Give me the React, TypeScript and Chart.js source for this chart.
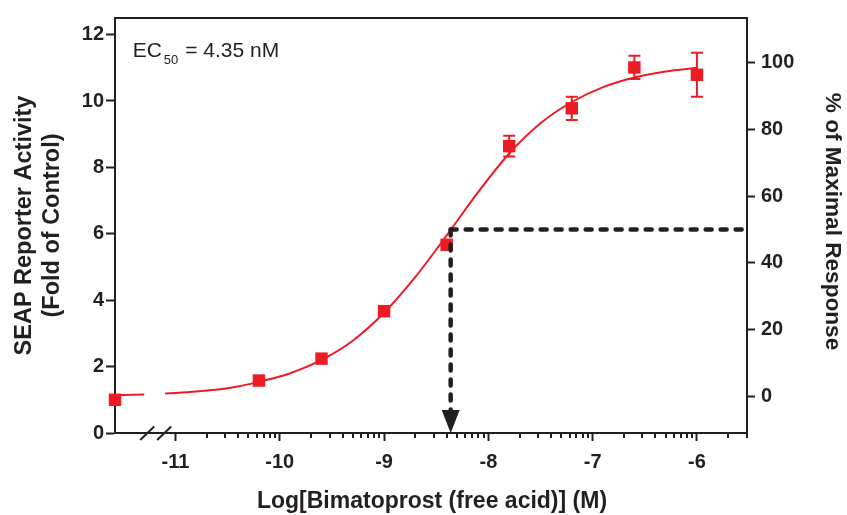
import React, { useEffect, useRef } from "react";
import { Chart, registerables } from "chart.js";

Chart.register(...registerables);

// ---- data ----
const logConc = [-11.58, -10.2, -9.6, -9.0, -8.4, -7.8, -7.2, -6.6, -6.0];
const foldValues = [1.0, 1.58, 2.24, 3.67, 5.67, 8.64, 9.78, 11.01, 10.79];
const foldErrors = [0, 0, 0, 0, 0, 0.31, 0.35, 0.35, 0.66];

// fitted curve (null = axis break gap)
const fitX = [-11.58, -11.3, -11.2, -11.1, -10.8, -10.5, -10.2, -9.9, -9.6, -9.3, -9.0, -8.7, -8.4, -8.1, -7.8, -7.5, -7.2, -6.9, -6.6, -6.3, -6.0];
const fitY = [1.14, 1.16, null, 1.19, 1.25, 1.35, 1.54, 1.8, 2.2, 2.78, 3.62, 4.7, 5.95, 7.25, 8.42, 9.33, 9.97, 10.42, 10.71, 10.89, 11.0];

const xTicks = [-11, -10, -9, -8, -7, -6];
const leftTicks = [0, 2, 4, 6, 8, 10, 12];
const rightTicks = [0, 20, 40, 60, 80, 100];

const X_MIN = -11.58;
const X_MAX = -5.52;
const LEFT_MIN = 0;
const LEFT_MAX = 12.5;
const RIGHT_MIN = -10.99;
const RIGHT_MAX = 113.33;

const EC50_LOG = -8.3615; // log10(4.35 nM)
const HALF_MAX = 50;
const BREAK_AT = -11.19;

const xTitle = "Log[Bimatoprost (free acid)] (M)";
const leftTitle = ["SEAP Reporter Activity", "(Fold of Control)"];
const rightTitle = "% of Maximal Response";

const RED = "#ED1C24";
const INK = "#231F20";
const FAMILY = '"Liberation Sans", Arial, Helvetica, sans-serif';

const overlay = {
  id: "overlay",
  beforeDatasetsDraw(chart: any) {
    const { ctx, scales } = chart;
    const x = scales.x, y = scales.y;
    ctx.save();
    ctx.strokeStyle = RED;
    ctx.lineWidth = 2;
    logConc.forEach((lc, i) => {
      const e = foldErrors[i];
      if (!e) return;
      const px = x.getPixelForValue(lc);
      const t = y.getPixelForValue(foldValues[i] + e);
      const b = y.getPixelForValue(foldValues[i] - e);
      ctx.beginPath();
      ctx.moveTo(px, t); ctx.lineTo(px, b);
      ctx.moveTo(px - 6, t); ctx.lineTo(px + 6, t);
      ctx.moveTo(px - 6, b); ctx.lineTo(px + 6, b);
      ctx.stroke();
    });
    ctx.restore();
  },
  afterDatasetsDraw(chart: any) {
    const { ctx, chartArea: a, scales } = chart;
    const ex = scales.x.getPixelForValue(EC50_LOG);
    const yh = scales.y2.getPixelForValue(HALF_MAX);
    const arrowH = 23, arrowW = 9;
    ctx.save();
    ctx.strokeStyle = INK;
    ctx.lineWidth = 4.5;
    ctx.lineCap = "round";
    ctx.setLineDash([6, 9]);
    ctx.beginPath();
    ctx.moveTo(ex, yh); ctx.lineTo(a.right - 2, yh);
    ctx.stroke();
    ctx.beginPath();
    ctx.moveTo(ex, yh); ctx.lineTo(ex, a.bottom - arrowH);
    ctx.stroke();
    ctx.setLineDash([]);
    ctx.fillStyle = INK;
    ctx.beginPath();
    ctx.moveTo(ex - arrowW, a.bottom - arrowH);
    ctx.lineTo(ex + arrowW, a.bottom - arrowH);
    ctx.lineTo(ex, a.bottom);
    ctx.closePath();
    ctx.fill();
    ctx.restore();
  },
  afterDraw(chart: any) {
    const { ctx, chartArea: a, scales } = chart;
    const x = scales.x;
    ctx.save();
    ctx.strokeStyle = INK;
    ctx.lineWidth = 2;
    // top frame
    ctx.beginPath();
    ctx.moveTo(a.left - 1, a.top);
    ctx.lineTo(a.right + 1, a.top);
    ctx.stroke();
    // minor log ticks
    ctx.beginPath();
    for (let d = -11; d <= -6; d++) {
      for (let k = 2; k <= 9; k++) {
        const v = d + Math.log10(k);
        if (v > X_MAX) continue;
        const px = Math.round(x.getPixelForValue(v));
        ctx.moveTo(px, a.bottom);
        ctx.lineTo(px, a.bottom + 5);
      }
    }
    ctx.stroke();
    // axis break
    const bx = x.getPixelForValue(BREAK_AT);
    ctx.beginPath();
    [-8.5, 8.5].forEach((o) => {
      ctx.moveTo(bx + o - 7, a.bottom + 7);
      ctx.lineTo(bx + o + 7, a.bottom - 6.5);
    });
    ctx.stroke();

    ctx.fillStyle = INK;
    // x title
    ctx.font = `bold 23px ${FAMILY}`;
    ctx.textAlign = "center";
    ctx.textBaseline = "alphabetic";
    ctx.fillText(xTitle, (a.left + a.right) / 2 + 1, 508);
    // left title
    const cy = (a.top + a.bottom) / 2;
    ctx.save();
    ctx.translate(25, cy);
    ctx.rotate(-Math.PI / 2);
    ctx.font = `bold 23.5px ${FAMILY}`;
    ctx.textBaseline = "middle";
    ctx.fillText(leftTitle[0], 0, 0);
    ctx.restore();
    ctx.save();
    ctx.translate(53, cy);
    ctx.rotate(-Math.PI / 2);
    ctx.font = `bold 23.5px ${FAMILY}`;
    ctx.textBaseline = "middle";
    ctx.fillText(leftTitle[1], 0, 0);
    ctx.restore();
    // right title
    ctx.save();
    ctx.translate(832, cy - 4);
    ctx.rotate(Math.PI / 2);
    ctx.font = `bold 22.6px ${FAMILY}`;
    ctx.textBaseline = "middle";
    ctx.fillText(rightTitle, 0, 0);
    ctx.restore();
    // EC50 annotation
    ctx.textAlign = "left";
    ctx.textBaseline = "alphabetic";
    ctx.font = `21px ${FAMILY}`;
    let tx = 132.7;
    ctx.fillText("EC", tx, 56.7);
    tx += ctx.measureText("EC").width + 2;
    ctx.font = `13px ${FAMILY}`;
    ctx.fillText("50", tx, 64);
    tx += ctx.measureText("50").width + 1;
    ctx.font = `21px ${FAMILY}`;
    ctx.fillText(" = 4.35 nM", tx, 56.7);
    ctx.restore();
  },
};

export default function App() {
  const ref = useRef<HTMLCanvasElement | null>(null);

  useEffect(() => {
    if (!ref.current) return;
    const tickFont = { family: FAMILY, size: 20, weight: "bold" as const };
    const chart = new Chart(ref.current, {
      type: "scatter",
      data: {
        datasets: [
          {
            type: "line",
            data: fitX.map((v, i) => ({ x: v, y: fitY[i] })),
            borderColor: RED,
            borderWidth: 2,
            pointRadius: 0,
            fill: false,
            cubicInterpolationMode: "monotone",
            spanGaps: false,
            yAxisID: "y",
            clip: false,
            order: 2,
          } as any,
          {
            type: "scatter",
            data: logConc.map((v, i) => ({ x: v, y: foldValues[i] })),
            pointStyle: "rect",
            pointRadius: 8.8,
            backgroundColor: RED,
            borderColor: RED,
            borderWidth: 0,
            yAxisID: "y",
            clip: false,
            order: 1,
          } as any,
        ],
      },
      options: {
        responsive: false,
        animation: false,
        layout: { padding: { top: 12, left: 0, right: 0, bottom: 0 } },
        plugins: { legend: { display: false }, tooltip: { enabled: false } },
        scales: {
          x: {
            type: "linear",
            position: "bottom",
            min: X_MIN,
            max: X_MAX,
            afterBuildTicks: (s: any) => { s.ticks = xTicks.map((v) => ({ value: v })); },
            afterFit: (s: any) => { s.height = 82; },
            ticks: { font: tickFont, color: INK, padding: 9, maxRotation: 0, callback: (v: any) => String(v) },
            grid: { drawOnChartArea: false, drawTicks: true, tickLength: 8, tickWidth: 2, tickColor: INK },
            border: { display: true, color: INK, width: 2 },
          },
          y: {
            type: "linear",
            position: "left",
            min: LEFT_MIN,
            max: LEFT_MAX,
            afterBuildTicks: (s: any) => { s.ticks = leftTicks.map((v) => ({ value: v })); },
            afterFit: (s: any) => { s.width = 115; },
            ticks: { font: tickFont, color: INK, padding: 2, callback: (v: any) => String(v) },
            grid: { drawOnChartArea: false, drawTicks: true, tickLength: 9, tickWidth: 2, tickColor: INK },
            border: { display: true, color: INK, width: 2 },
          },
          y2: {
            type: "linear",
            position: "right",
            min: RIGHT_MIN,
            max: RIGHT_MAX,
            afterBuildTicks: (s: any) => { s.ticks = rightTicks.map((v) => ({ value: v })); },
            afterFit: (s: any) => { s.width = 100; },
            ticks: { font: tickFont, color: INK, padding: 6, callback: (v: any) => String(v) },
            grid: { drawOnChartArea: false, drawTicks: true, tickLength: 8, tickWidth: 2, tickColor: INK },
            border: { display: true, color: INK, width: 2 },
          },
        },
      } as any,
      plugins: [overlay],
    });
    return () => chart.destroy();
  }, []);

  return (
    <div style={{ position: "absolute", left: 0, top: 0, width: 847, height: 515, background: "#fff" }}>
      <canvas ref={ref} width={847} height={515} style={{ display: "block" }} />
    </div>
  );
}
